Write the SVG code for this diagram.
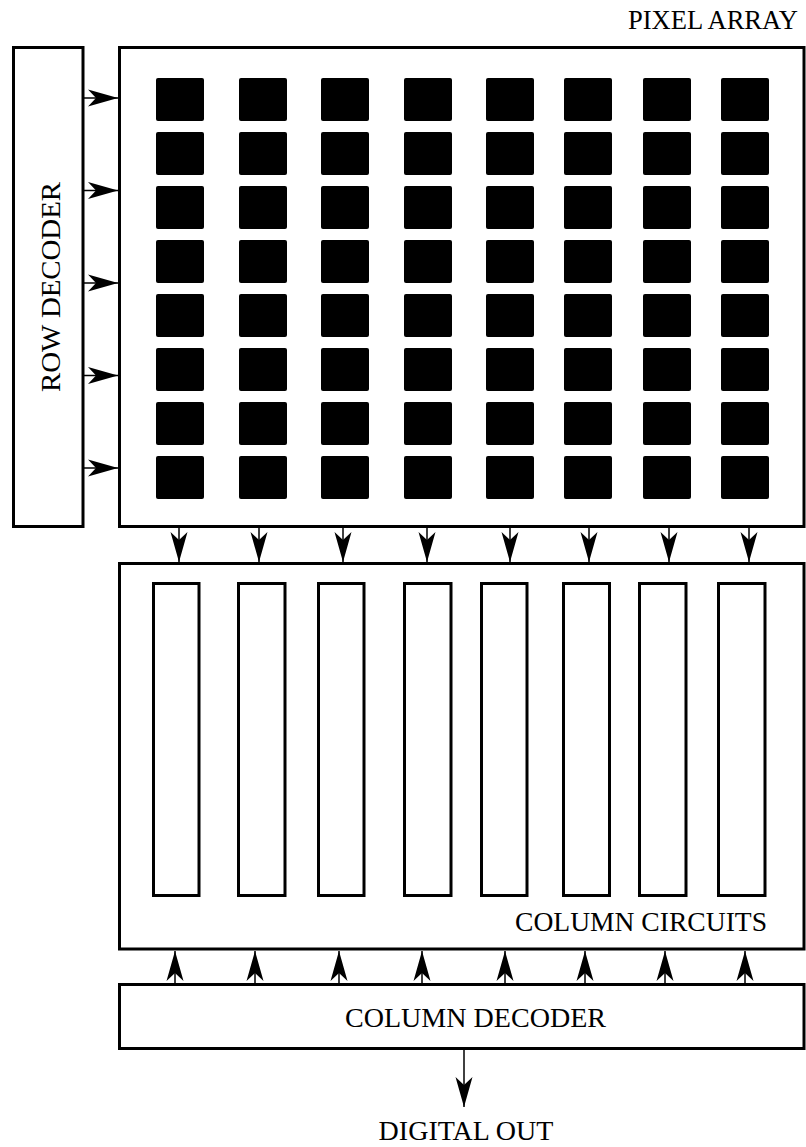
<svg xmlns="http://www.w3.org/2000/svg" width="806" height="1147" viewBox="0 0 806 1147">
<style>
.box{fill:#fff;stroke:#000;stroke-width:3}
.px{fill:#000}
.col{fill:#fff;stroke:#000;stroke-width:3}
.conn{stroke:#000;stroke-width:1.5;fill:none;marker-end:url(#ah)}
.lbl{font-family:"Liberation Serif","Times New Roman",serif;font-size:28px;fill:#000}
</style>
<defs>
<marker id="ah" markerUnits="userSpaceOnUse" markerWidth="34" markerHeight="20" viewBox="-31 -10 32 20" refX="0" refY="0" orient="auto">
<path d="M0,0 L-30,-8.5 L-22,0 L-30,8.5 Z" fill="#000"/>
</marker>
</defs>
<rect width="806" height="1147" fill="#fff"/>
<g id="row-decoder">
<rect class="box" x="13.5" y="47.5" width="69.5" height="479"/>
<text class="lbl" transform="translate(60,287) rotate(-90)" text-anchor="middle" textLength="210" lengthAdjust="spacingAndGlyphs">ROW DECODER</text>
</g>
<g id="pixel-array">
<rect class="box" x="119.5" y="47.5" width="684.5" height="479"/>
<text class="lbl" x="628" y="29" textLength="170" lengthAdjust="spacingAndGlyphs">PIXEL ARRAY</text>
<g id="pixels">
<rect class="px" x="156" y="78" width="48" height="43" rx="2"/><rect class="px" x="239" y="78" width="48" height="43" rx="2"/><rect class="px" x="321" y="78" width="48" height="43" rx="2"/><rect class="px" x="404" y="78" width="48" height="43" rx="2"/><rect class="px" x="486" y="78" width="48" height="43" rx="2"/><rect class="px" x="564" y="78" width="48" height="43" rx="2"/><rect class="px" x="643" y="78" width="48" height="43" rx="2"/><rect class="px" x="721" y="78" width="48" height="43" rx="2"/>
<rect class="px" x="156" y="132" width="48" height="43" rx="2"/><rect class="px" x="239" y="132" width="48" height="43" rx="2"/><rect class="px" x="321" y="132" width="48" height="43" rx="2"/><rect class="px" x="404" y="132" width="48" height="43" rx="2"/><rect class="px" x="486" y="132" width="48" height="43" rx="2"/><rect class="px" x="564" y="132" width="48" height="43" rx="2"/><rect class="px" x="643" y="132" width="48" height="43" rx="2"/><rect class="px" x="721" y="132" width="48" height="43" rx="2"/>
<rect class="px" x="156" y="186" width="48" height="43" rx="2"/><rect class="px" x="239" y="186" width="48" height="43" rx="2"/><rect class="px" x="321" y="186" width="48" height="43" rx="2"/><rect class="px" x="404" y="186" width="48" height="43" rx="2"/><rect class="px" x="486" y="186" width="48" height="43" rx="2"/><rect class="px" x="564" y="186" width="48" height="43" rx="2"/><rect class="px" x="643" y="186" width="48" height="43" rx="2"/><rect class="px" x="721" y="186" width="48" height="43" rx="2"/>
<rect class="px" x="156" y="240" width="48" height="43" rx="2"/><rect class="px" x="239" y="240" width="48" height="43" rx="2"/><rect class="px" x="321" y="240" width="48" height="43" rx="2"/><rect class="px" x="404" y="240" width="48" height="43" rx="2"/><rect class="px" x="486" y="240" width="48" height="43" rx="2"/><rect class="px" x="564" y="240" width="48" height="43" rx="2"/><rect class="px" x="643" y="240" width="48" height="43" rx="2"/><rect class="px" x="721" y="240" width="48" height="43" rx="2"/>
<rect class="px" x="156" y="294" width="48" height="43" rx="2"/><rect class="px" x="239" y="294" width="48" height="43" rx="2"/><rect class="px" x="321" y="294" width="48" height="43" rx="2"/><rect class="px" x="404" y="294" width="48" height="43" rx="2"/><rect class="px" x="486" y="294" width="48" height="43" rx="2"/><rect class="px" x="564" y="294" width="48" height="43" rx="2"/><rect class="px" x="643" y="294" width="48" height="43" rx="2"/><rect class="px" x="721" y="294" width="48" height="43" rx="2"/>
<rect class="px" x="156" y="348" width="48" height="43" rx="2"/><rect class="px" x="239" y="348" width="48" height="43" rx="2"/><rect class="px" x="321" y="348" width="48" height="43" rx="2"/><rect class="px" x="404" y="348" width="48" height="43" rx="2"/><rect class="px" x="486" y="348" width="48" height="43" rx="2"/><rect class="px" x="564" y="348" width="48" height="43" rx="2"/><rect class="px" x="643" y="348" width="48" height="43" rx="2"/><rect class="px" x="721" y="348" width="48" height="43" rx="2"/>
<rect class="px" x="156" y="402" width="48" height="43" rx="2"/><rect class="px" x="239" y="402" width="48" height="43" rx="2"/><rect class="px" x="321" y="402" width="48" height="43" rx="2"/><rect class="px" x="404" y="402" width="48" height="43" rx="2"/><rect class="px" x="486" y="402" width="48" height="43" rx="2"/><rect class="px" x="564" y="402" width="48" height="43" rx="2"/><rect class="px" x="643" y="402" width="48" height="43" rx="2"/><rect class="px" x="721" y="402" width="48" height="43" rx="2"/>
<rect class="px" x="156" y="456" width="48" height="43" rx="2"/><rect class="px" x="239" y="456" width="48" height="43" rx="2"/><rect class="px" x="321" y="456" width="48" height="43" rx="2"/><rect class="px" x="404" y="456" width="48" height="43" rx="2"/><rect class="px" x="486" y="456" width="48" height="43" rx="2"/><rect class="px" x="564" y="456" width="48" height="43" rx="2"/><rect class="px" x="643" y="456" width="48" height="43" rx="2"/><rect class="px" x="721" y="456" width="48" height="43" rx="2"/>
</g>
</g>
<g id="column-circuits">
<rect class="box" x="119.5" y="563.5" width="684.5" height="385.5"/>
<rect class="col" x="153.5" y="583.5" width="45.5" height="312"/>
<rect class="col" x="238.5" y="583.5" width="46.5" height="312"/>
<rect class="col" x="318.5" y="583.5" width="45.5" height="312"/>
<rect class="col" x="404.5" y="583.5" width="46.5" height="312"/>
<rect class="col" x="481.5" y="583.5" width="45.5" height="312"/>
<rect class="col" x="563.5" y="583.5" width="46" height="312"/>
<rect class="col" x="639.5" y="583.5" width="46.5" height="312"/>
<rect class="col" x="718.5" y="583.5" width="46.5" height="312"/>
<text class="lbl" x="767" y="931" text-anchor="end" textLength="252" lengthAdjust="spacingAndGlyphs">COLUMN CIRCUITS</text>
</g>
<g id="column-decoder">
<rect class="box" x="119.5" y="984.5" width="684.5" height="64"/>
<text class="lbl" x="475.5" y="1027" text-anchor="middle" textLength="261" lengthAdjust="spacingAndGlyphs">COLUMN DECODER</text>
</g>
<g id="digital-out">
<text class="lbl" x="466" y="1140" text-anchor="middle">DIGITAL OUT</text>
</g>
<g id="connectors">
<line class="conn" x1="83" y1="98" x2="118" y2="98"/>
<line class="conn" x1="83" y1="190.5" x2="118" y2="190.5"/>
<line class="conn" x1="83" y1="283" x2="118" y2="283"/>
<line class="conn" x1="83" y1="375.5" x2="118" y2="375.5"/>
<line class="conn" x1="83" y1="468" x2="118" y2="468"/>
<line class="conn" x1="179" y1="528" x2="179" y2="562"/>
<line class="conn" x1="259" y1="528" x2="259" y2="562"/>
<line class="conn" x1="343" y1="528" x2="343" y2="562"/>
<line class="conn" x1="427" y1="528" x2="427" y2="562"/>
<line class="conn" x1="510" y1="528" x2="510" y2="562"/>
<line class="conn" x1="589" y1="528" x2="589" y2="562"/>
<line class="conn" x1="669" y1="528" x2="669" y2="562"/>
<line class="conn" x1="749" y1="528" x2="749" y2="562"/>
<line class="conn" x1="175" y1="983" x2="175" y2="951"/>
<line class="conn" x1="255" y1="983" x2="255" y2="951"/>
<line class="conn" x1="339" y1="983" x2="339" y2="951"/>
<line class="conn" x1="422" y1="983" x2="422" y2="951"/>
<line class="conn" x1="505" y1="983" x2="505" y2="951"/>
<line class="conn" x1="585" y1="983" x2="585" y2="951"/>
<line class="conn" x1="665" y1="983" x2="665" y2="951"/>
<line class="conn" x1="745" y1="983" x2="745" y2="951"/>
<line class="conn" x1="464" y1="1050" x2="464" y2="1107"/>
</g>
</svg>
